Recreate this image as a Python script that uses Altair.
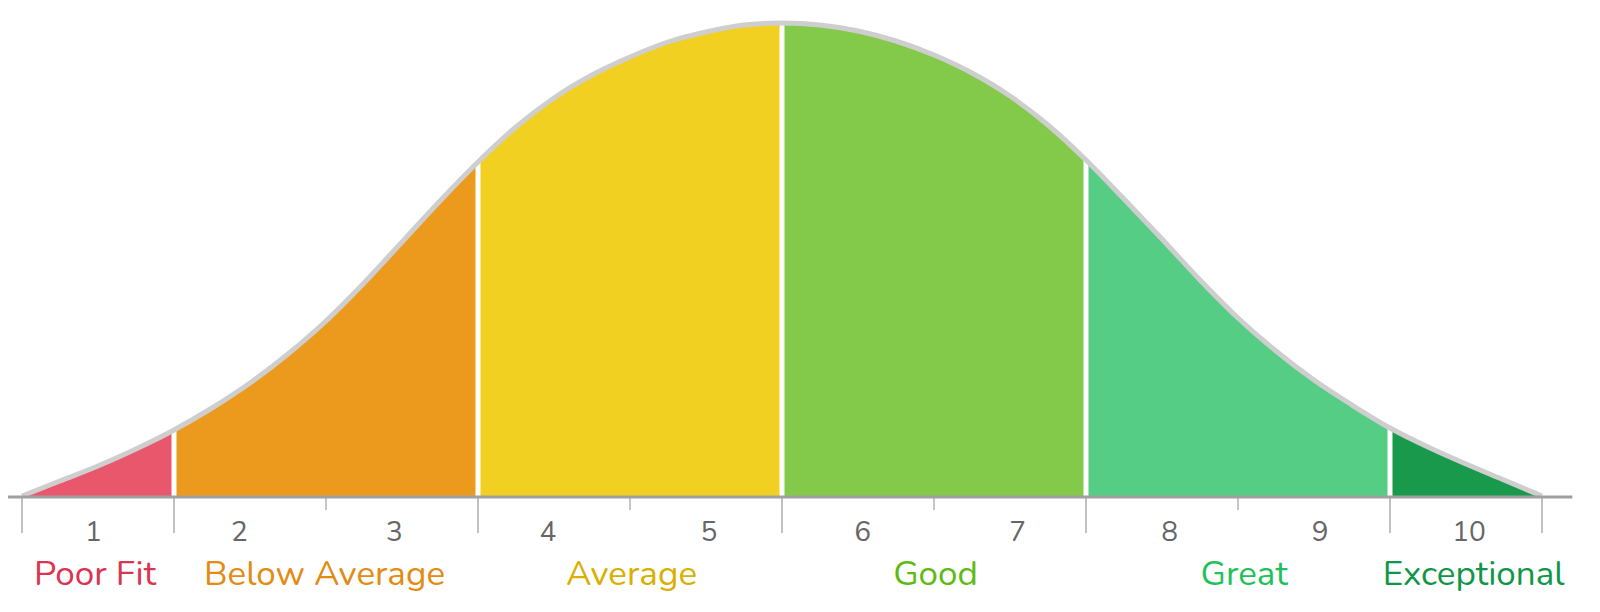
import altair as alt
import pandas as pd

# ---- data ----
curve_x = [0.5, 0.75, 1.0, 1.25, 1.5, 1.75, 2.0, 2.25, 2.5, 2.75, 3.0, 3.25, 3.5, 3.75,
           4.0, 4.25, 4.5, 4.75, 5.0, 5.25, 5.5, 5.75, 6.0, 6.25, 6.5, 6.75, 7.0, 7.25,
           7.5, 7.75, 8.0, 8.25, 8.5, 8.75, 9.0, 9.25, 9.5, 9.75, 10.0, 10.25, 10.5]
curve_h = [1, 16, 31, 48, 67, 89, 114, 143, 176, 214, 255, 296, 335, 370, 399, 422, 440,
           455, 465, 472, 474, 472, 466, 456, 442, 424, 401, 372, 337, 298, 258, 217, 179,
           146, 117, 92, 69, 50, 33, 17, 1]

bands = ["Poor Fit", "Below Average", "Average", "Good", "Great", "Exceptional"]
band_edges = [0.5, 1.5, 3.5, 5.5, 7.5, 9.5, 10.5]
band_fill = ["#E8576C", "#EB9A1E", "#F2D021", "#84CA4A", "#55CD85", "#18994B"]
band_text = ["#DC3450", "#E38B12", "#D9AF00", "#5DBB14", "#1FC25A", "#0F9747"]
band_label_x = [0.98, 2.49, 4.51, 6.51, 8.54, 10.05]

score_labels = ["1", "2", "3", "4", "5", "6", "7", "8", "9", "10"]
score_label_x = [0.97, 1.93, 2.95, 3.96, 5.02, 6.03, 7.05, 8.05, 9.04, 10.02]

major_ticks = [0.5, 1.5, 3.5, 5.5, 7.5, 9.5, 10.5]
minor_ticks = [2.5, 4.5, 6.5, 8.5]
axis_span = [0.355, 10.70]

FONT = "Nunito, Lato, sans-serif"

# ---- tables ----
rows = []
for i, b in enumerate(bands):
    lo, hi = band_edges[i], band_edges[i + 1]
    for xv, hv in zip(curve_x, curve_h):
        if lo <= xv <= hi:
            rows.append({"x": xv, "h": hv, "band": b})
area_df = pd.DataFrame(rows)
curve_df = pd.DataFrame({"x": curve_x, "h": curve_h})

sep_x = band_edges[1:-1]
sep_df = pd.DataFrame({"x": sep_x, "h": [curve_h[curve_x.index(v)] for v in sep_x]})

major_df = pd.DataFrame({"x": major_ticks})
minor_df = pd.DataFrame({"x": minor_ticks})
axis_df = pd.DataFrame({"x": [axis_span[0]], "x2": [axis_span[1]]})
score_df = pd.DataFrame({"x": score_label_x, "t": score_labels})
cat_df = pd.DataFrame({"x": band_label_x, "t": bands})

xs = alt.Scale(domain=[0.408, 10.829], nice=False, zero=False)
ys = alt.Scale(domain=[-107, 489], nice=False, zero=False)
X = lambda f="x": alt.X(f"{f}:Q", scale=xs, axis=None)

areas = alt.Chart(area_df).mark_area(interpolate="monotone").encode(
    x=X(), y=alt.Y("h:Q", scale=ys, axis=None), y2=alt.datum(0),
    color=alt.Color("band:N", scale=alt.Scale(domain=bands, range=band_fill), legend=None),
)

seps = alt.Chart(sep_df).mark_rule(color="white", strokeWidth=5).encode(
    x=X(), y=alt.Y("h:Q", scale=ys, axis=None), y2=alt.datum(0),
)

outline = alt.Chart(curve_df).mark_line(
    interpolate="monotone", color="#cecece", strokeWidth=5
).encode(x=X(), y=alt.Y("h:Q", scale=ys, axis=None))

major = alt.Chart(major_df).mark_rule(color="#c2c2c2", strokeWidth=2).encode(
    x=X(), y=alt.datum(0, scale=ys), y2=alt.datum(-36),
)
minor = alt.Chart(minor_df).mark_rule(color="#c8c8c8", strokeWidth=2).encode(
    x=X(), y=alt.datum(0, scale=ys), y2=alt.datum(-13),
)

axis_line = alt.Chart(axis_df).mark_rule(color="#a0a0a0", strokeWidth=3).encode(
    x=X(), x2="x2:Q", y=alt.datum(0, scale=ys),
)

scores = alt.Chart(score_df).mark_text(
    font=FONT, fontSize=28, color="#666666", baseline="alphabetic", align="center"
).encode(x=X(), y=alt.datum(-44, scale=ys), text="t:N")

cats = alt.Chart(cat_df).mark_text(
    font=FONT, fontSize=35, baseline="alphabetic", align="center"
).encode(
    x=X(), y=alt.datum(-88, scale=ys), text="t:N",
    color=alt.Color("t:N", scale=alt.Scale(domain=bands, range=band_text), legend=None),
)

chart = alt.layer(
    areas, seps, outline, major, minor, axis_line, scores, cats
).resolve_scale(color="independent").properties(
    width=1584, height=596, padding=0, autosize=alt.AutoSizeParams(type="none"),
    background="white",
).configure_view(stroke=None)

chart.save("out.html", embed_options={"renderer": "svg", "actions": False})
